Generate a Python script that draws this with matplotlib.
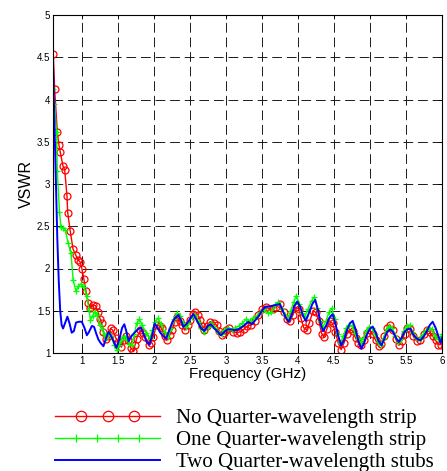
import matplotlib
matplotlib.use("Agg")
import matplotlib.pyplot as plt
from matplotlib.legend_handler import HandlerLine2D
from matplotlib.lines import Line2D
import numpy as np

f_none = [0.604, 0.623, 0.66, 0.683, 0.70, 0.739, 0.762, 0.794, 0.804, 0.84, 0.878, 0.915, 0.95, 0.975,
          1.0, 1.03, 1.058, 1.09, 1.12, 1.155, 1.19, 1.225, 1.255, 1.277, 1.30, 1.33, 1.36, 1.40, 1.43,
          1.47, 1.507, 1.55, 1.58, 1.61, 1.646, 1.68, 1.715, 1.74, 1.76, 1.81, 1.85, 1.88, 1.93, 1.96,
          1.99, 2.04, 2.08, 2.11, 2.15, 2.18, 2.22, 2.25, 2.29, 2.32, 2.36, 2.39, 2.43, 2.47, 2.50, 2.54,
          2.57, 2.61, 2.64, 2.67, 2.70, 2.74, 2.78, 2.83, 2.87, 2.91, 2.94, 2.97, 3.0, 3.05, 3.10, 3.15,
          3.20, 3.25, 3.30, 3.35, 3.40, 3.45, 3.50, 3.55, 3.60, 3.65, 3.70, 3.75, 3.80, 3.85, 3.89, 3.93,
          3.97, 4.01, 4.04, 4.08, 4.12, 4.16, 4.21, 4.25, 4.29, 4.33, 4.36, 4.40, 4.44, 4.48, 4.52, 4.56,
          4.60, 4.64, 4.68, 4.72, 4.76, 4.80, 4.84, 4.88, 4.92, 4.96, 5.00, 5.04, 5.08, 5.12, 5.16, 5.20,
          5.24, 5.28, 5.32, 5.36, 5.40, 5.44, 5.48, 5.52, 5.56, 5.60, 5.65, 5.70, 5.75, 5.79, 5.83, 5.87,
          5.91, 5.95, 5.98, 6.00]
v_none = [4.54, 4.12, 3.61, 3.46, 3.38, 3.21, 3.17, 2.86, 2.66, 2.44, 2.23, 2.16, 2.10, 2.08,
          2.0, 1.87, 1.73, 1.59, 1.53, 1.57, 1.56, 1.49, 1.40, 1.35, 1.25, 1.17, 1.20, 1.29, 1.27,
          1.18, 1.13, 1.07, 1.15, 1.20, 1.15, 1.06, 1.02, 1.10, 1.17, 1.27, 1.24, 1.19, 1.09, 1.12,
          1.19, 1.33, 1.32, 1.29, 1.20, 1.15, 1.21, 1.27, 1.37, 1.43, 1.38, 1.33, 1.27, 1.33, 1.39, 1.46,
          1.49, 1.45, 1.39, 1.32, 1.27, 1.32, 1.37, 1.36, 1.33, 1.26, 1.21, 1.24, 1.27, 1.29, 1.25, 1.24,
          1.25, 1.28, 1.32, 1.33, 1.38, 1.45, 1.52, 1.55, 1.52, 1.52, 1.55, 1.58, 1.48, 1.40, 1.38, 1.45,
          1.54, 1.52, 1.42, 1.30, 1.27, 1.36, 1.50, 1.48, 1.38, 1.23, 1.19, 1.28, 1.38, 1.35, 1.25, 1.12,
          1.04, 1.12, 1.22, 1.28, 1.26, 1.18, 1.12, 1.10, 1.15, 1.24, 1.27, 1.22, 1.15, 1.08, 1.11, 1.20,
          1.30, 1.33, 1.27, 1.16, 1.09, 1.14, 1.23, 1.30, 1.28, 1.20, 1.14, 1.15, 1.22, 1.27, 1.25, 1.20,
          1.15, 1.10, 1.10, 1.16]

f_one = [0.60, 0.62, 0.65, 0.66, 0.69, 0.71, 0.74, 0.77, 0.81, 0.85, 0.88, 0.92, 0.95, 0.99, 1.03,
         1.07, 1.10, 1.12, 1.15, 1.18, 1.21, 1.25, 1.28, 1.31, 1.34, 1.37, 1.40, 1.45, 1.49, 1.52, 1.55,
         1.59, 1.62, 1.66, 1.69, 1.73, 1.76, 1.80, 1.84, 1.89, 1.94, 1.98, 2.02, 2.06, 2.10, 2.15, 2.20,
         2.24, 2.28, 2.32, 2.36, 2.40, 2.44, 2.48, 2.53, 2.57, 2.62, 2.66, 2.70, 2.75, 2.80, 2.85, 2.90,
         2.94, 2.98, 3.03, 3.08, 3.13, 3.18, 3.23, 3.28, 3.33, 3.38, 3.43, 3.48, 3.53, 3.58, 3.63, 3.68,
         3.73, 3.78, 3.82, 3.86, 3.90, 3.94, 3.98, 4.02, 4.06, 4.10, 4.14, 4.19, 4.23, 4.27, 4.31, 4.35,
         4.39, 4.43, 4.47, 4.51, 4.55, 4.59, 4.63, 4.67, 4.71, 4.75, 4.79, 4.83, 4.87, 4.91, 4.95, 4.99,
         5.03, 5.07, 5.11, 5.15, 5.19, 5.23, 5.27, 5.31, 5.35, 5.39, 5.43, 5.47, 5.51, 5.55, 5.59, 5.64,
         5.69, 5.74, 5.78, 5.82, 5.86, 5.90, 5.94, 5.98, 6.00]
v_one = [4.12, 3.95, 3.61, 3.15, 2.67, 2.49, 2.48, 2.46, 2.30, 2.18, 1.86, 1.73, 1.79, 1.82, 1.78,
         1.67, 1.51, 1.39, 1.44, 1.49, 1.45, 1.33, 1.28, 1.23, 1.18, 1.24, 1.20, 1.10, 1.03, 1.10, 1.15,
         1.20, 1.17, 1.11, 1.09, 1.22, 1.35, 1.40, 1.33, 1.24, 1.17, 1.27, 1.37, 1.41, 1.34, 1.25, 1.19,
         1.30, 1.40, 1.47, 1.44, 1.36, 1.31, 1.36, 1.43, 1.45, 1.37, 1.29, 1.25, 1.31, 1.35, 1.30, 1.24,
         1.22, 1.27, 1.30, 1.27, 1.30, 1.32, 1.35, 1.40, 1.38, 1.42, 1.44, 1.48, 1.52, 1.47, 1.48, 1.57,
         1.60, 1.52, 1.45, 1.40, 1.50, 1.60, 1.68, 1.58, 1.47, 1.44, 1.52, 1.62, 1.66, 1.53, 1.38, 1.31,
         1.38, 1.48, 1.53, 1.40, 1.22, 1.12, 1.20, 1.30, 1.33, 1.32, 1.24, 1.16, 1.13, 1.18, 1.26, 1.31,
         1.30, 1.22, 1.13, 1.10, 1.18, 1.28, 1.32, 1.30, 1.20, 1.13, 1.17, 1.26, 1.32, 1.33, 1.25, 1.18,
         1.17, 1.22, 1.27, 1.30, 1.28, 1.20, 1.16, 1.18, 1.22]

f_two = [0.60, 0.62, 0.64, 0.66, 0.68, 0.70, 0.72, 0.74, 0.77, 0.80, 0.83, 0.86, 0.89, 0.92, 0.96,
         1.00, 1.04, 1.07, 1.10, 1.14, 1.17, 1.20, 1.23, 1.26, 1.30, 1.33, 1.37, 1.40, 1.44, 1.48, 1.52,
         1.56, 1.59, 1.62, 1.65, 1.69, 1.73, 1.78, 1.82, 1.86, 1.90, 1.94, 1.98, 2.01, 2.05, 2.09, 2.13,
         2.17, 2.21, 2.25, 2.29, 2.34, 2.38, 2.41, 2.45, 2.50, 2.55, 2.60, 2.65, 2.70, 2.75, 2.79, 2.84,
         2.89, 2.93, 2.98, 3.02, 3.07, 3.12, 3.17, 3.21, 3.26, 3.31, 3.36, 3.40, 3.45, 3.50, 3.55, 3.60,
         3.65, 3.70, 3.75, 3.79, 3.83, 3.87, 3.91, 3.95, 3.99, 4.03, 4.07, 4.11, 4.15, 4.20, 4.24, 4.28,
         4.32, 4.35, 4.39, 4.44, 4.48, 4.52, 4.56, 4.60, 4.64, 4.68, 4.72, 4.76, 4.80, 4.84, 4.88, 4.92,
         4.96, 5.00, 5.04, 5.08, 5.12, 5.16, 5.20, 5.24, 5.28, 5.32, 5.36, 5.40, 5.44, 5.48, 5.52, 5.56,
         5.60, 5.65, 5.70, 5.75, 5.79, 5.83, 5.87, 5.91, 5.95, 5.98, 6.00]
v_two = [4.40, 3.70, 2.95, 2.35, 1.85, 1.50, 1.33, 1.29, 1.36, 1.43, 1.35, 1.24, 1.26, 1.36, 1.37,
         1.37, 1.29, 1.21, 1.25, 1.32, 1.31, 1.23, 1.16, 1.12, 1.08, 1.16, 1.25, 1.21, 1.14, 1.06, 1.16,
         1.30, 1.34, 1.25, 1.14, 1.20, 1.24, 1.28, 1.30, 1.22, 1.13, 1.10, 1.22, 1.35, 1.30, 1.24, 1.20,
         1.17, 1.26, 1.35, 1.41, 1.45, 1.38, 1.31, 1.34, 1.40, 1.46, 1.38, 1.30, 1.26, 1.32, 1.34, 1.29,
         1.25, 1.21, 1.25, 1.28, 1.28, 1.27, 1.28, 1.30, 1.33, 1.37, 1.34, 1.38, 1.43, 1.50, 1.55, 1.55,
         1.56, 1.57, 1.58, 1.50, 1.42, 1.37, 1.44, 1.55, 1.61, 1.55, 1.44, 1.38, 1.47, 1.58, 1.63, 1.50,
         1.33, 1.26, 1.32, 1.42, 1.46, 1.35, 1.20, 1.09, 1.15, 1.27, 1.35, 1.38, 1.28, 1.14, 1.05, 1.12,
         1.22, 1.29, 1.31, 1.24, 1.14, 1.09, 1.17, 1.25, 1.28, 1.25, 1.18, 1.13, 1.18, 1.25, 1.28, 1.29,
         1.22, 1.17, 1.15, 1.20, 1.26, 1.33, 1.37, 1.30, 1.20, 1.12, 1.18]

labels = ["No Quarter-wavelength strip", "One Quarter-wavelength strip", "Two Quarter-wavelength stubs"]
xticks = [1, 1.5, 2, 2.5, 3, 3.5, 4, 4.5, 5, 5.5, 6]
yticks = [1, 1.5, 2, 2.5, 3, 3.5, 4, 4.5, 5]


class InnerMarkers(HandlerLine2D):
    # full-width line, markers only in the inside (matlab style legend)
    def __init__(self, n, ms, **kw):
        super().__init__(**kw)
        self.n = n
        self.ms = ms

    def create_artists(self, legend, orig_handle, xdescent, ydescent, width, height, fontsize, trans):
        y = height / 2 - ydescent
        line = Line2D([-xdescent, -xdescent + width], [y, y])
        self.update_prop(line, orig_handle, legend)
        line.set_marker('None')
        xm = np.linspace(-xdescent, -xdescent + width, self.n + 2)[1:-1]
        mk = Line2D(xm, [y] * self.n)
        self.update_prop(mk, orig_handle, legend)
        mk.set_linestyle('None')
        mk.set_markersize(self.ms)
        line.set_transform(trans)
        mk.set_transform(trans)
        return [line, mk]


plt.rcParams['font.family'] = ['Liberation Sans', 'DejaVu Sans']

fig = plt.figure(figsize=(4.47, 4.71), dpi=100)
ax = fig.add_axes([53/447, 118/471, 389/447, 338/471])

l1, = ax.plot(f_none, v_none, color='red', lw=1, marker='o', ms=5, mfc='none', mew=0.9)
l2, = ax.plot(f_one, v_one, color='#00ff00', lw=1, marker='+', ms=5, mew=0.9)
l3, = ax.plot(f_two, v_two, color='blue', lw=1.4)

ax.set_xlim(0.6, 6)
ax.set_ylim(1, 5)
ax.set_xticks(xticks)
ax.set_yticks(yticks)
ax.set_xticklabels([f"{t:g}" for t in xticks])
ax.set_yticklabels([f"{t:g}" for t in yticks])
ax.tick_params(direction='in', length=3, width=0.6, labelsize=7, top=True, right=True, pad=2)
ax.grid(True, color='0.1', linestyle=(0, (10, 5)), linewidth=0.7)
ax.set_axisbelow(True)
for s in ax.spines.values():
    s.set_linewidth(0.8)

ax.set_xlabel("Frequency (GHz)", fontsize=11, labelpad=1)
ax.set_ylabel("VSWR", fontsize=11.5, labelpad=2)

fig.legend([l1, l2, l3], labels, loc='upper left', bbox_to_anchor=(45/447, 1 - 398/471),
           frameon=False, borderpad=0, handlelength=5.0, handletextpad=0.8, labelspacing=0.12,
           prop={'family': 'Liberation Serif', 'size': 15},
           handler_map={l1: InnerMarkers(3, 7.5), l2: InnerMarkers(4, 6)})

fig.savefig("out.png", dpi=100)
